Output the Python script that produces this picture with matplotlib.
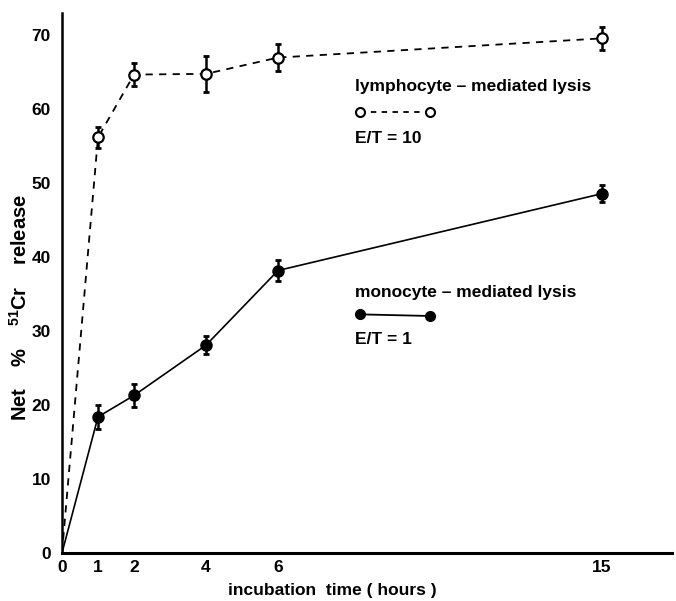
import matplotlib
matplotlib.use("Agg")
import matplotlib.pyplot as plt
from matplotlib.lines import Line2D

# Data
hours = [0, 1, 2, 4, 6, 15]
lympho = [0, 56.2, 64.7, 64.8, 67.0, 69.6]
lympho_err = [0, 1.4, 1.5, 2.4, 1.8, 1.6]
mono = [0, 18.4, 21.3, 28.1, 38.2, 48.6]
mono_err = [0, 1.6, 1.5, 1.2, 1.4, 1.2]
xticks = [0, 1, 2, 4, 6, 15]
yticks = [0, 10, 20, 30, 40, 50, 60, 70]

plt.rcParams['font.family'] = ['Liberation Sans', 'DejaVu Sans']
plt.rcParams['font.weight'] = 'bold'
plt.rcParams['mathtext.fontset'] = 'custom'
plt.rcParams['mathtext.bf'] = 'Liberation Sans:bold'
plt.rcParams['mathtext.rm'] = 'Liberation Sans:bold'

fig = plt.figure(figsize=(6.76, 6.01), dpi=100)
ax = fig.add_axes([0.0917, 0.080, 0.9023, 0.898])

# Lines
ax.plot(hours, lympho, color='black', lw=1.3, ls=(0, (4, 3.5)), zorder=2)
ax.plot(hours, mono, color='black', lw=1.2, ls='-', zorder=2)

# Error bars (skip zero point)
ax.errorbar(hours[1:], lympho[1:], yerr=lympho_err[1:], fmt='none',
            ecolor='black', elinewidth=1.8, capsize=2, capthick=2, zorder=3)
ax.errorbar(hours[1:], mono[1:], yerr=mono_err[1:], fmt='none',
            ecolor='black', elinewidth=1.8, capsize=2, capthick=2, zorder=3)

# Markers
ax.plot(hours[1:], lympho[1:], ls='none', marker='o', ms=7.5,
        mfc='white', mec='black', mew=1.6, zorder=4)
ax.plot(hours[1:], mono[1:], ls='none', marker='o', ms=8,
        mfc='black', mec='black', zorder=4)

ax.set_xlim(0, 16.94)
ax.set_ylim(0, 73)
ax.set_xticks(xticks)
ax.set_xticklabels([str(t) for t in xticks])
ax.set_yticks(yticks)
ax.set_yticklabels([str(t) for t in yticks])
ax.tick_params(axis='both', length=0, labelsize=12.5)
ax.tick_params(axis='x', pad=5)
ax.tick_params(axis='y', pad=8)
for lbl in ax.get_xticklabels() + ax.get_yticklabels():
    lbl.set_fontweight('bold')

for s in ['top', 'right']:
    ax.spines[s].set_visible(False)
ax.spines['left'].set_linewidth(1.8)
ax.spines['bottom'].set_linewidth(2.2)

ax.set_xlabel('incubation  time ( hours )', fontsize=12.5, fontweight='bold')
ax.xaxis.set_label_coords(0.444, -0.055)
fig.text(0.030, 0.489, r'Net    %    $^{\mathbf{51}}$Cr    release', rotation=90,
         fontsize=14.5, fontweight='bold', ha='center', va='center')

# Annotation "legends"
ax.text(0.481, 0.865, 'lymphocyte – mediated lysis', transform=ax.transAxes,
        fontsize=12.5, fontweight='bold', va='center', ha='left')
ax.add_line(Line2D([0.489, 0.604], [0.817, 0.817], transform=ax.transAxes,
                   color='black', lw=1.3, ls=(0, (3, 3)), marker='o', ms=6.5,
                   mfc='white', mec='black', mew=1.5, markevery=[0, 1]))
ax.text(0.481, 0.768, 'E/T = 10', transform=ax.transAxes,
        fontsize=12.5, fontweight='bold', va='center', ha='left')

ax.text(0.481, 0.483, 'monocyte – mediated lysis', transform=ax.transAxes,
        fontsize=12.5, fontweight='bold', va='center', ha='left')
ax.add_line(Line2D([0.489, 0.604], [0.442, 0.439], transform=ax.transAxes,
                   color='black', lw=1.3, marker='o', ms=7,
                   mfc='black', mec='black'))
ax.text(0.481, 0.396, 'E/T = 1', transform=ax.transAxes,
        fontsize=12.5, fontweight='bold', va='center', ha='left')

fig.savefig('out.png', dpi=100)
